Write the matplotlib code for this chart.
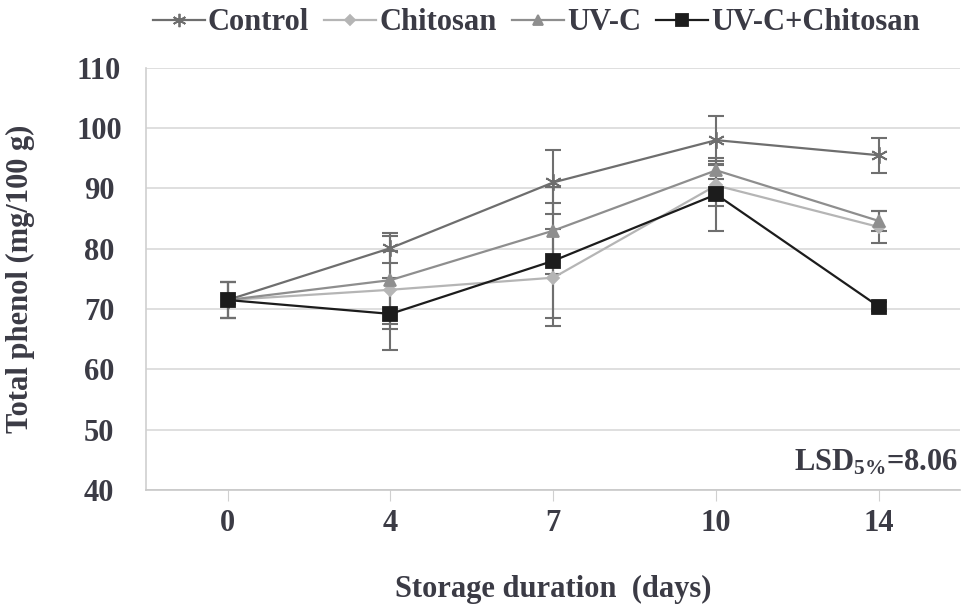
import matplotlib
matplotlib.use("Agg")
import matplotlib.pyplot as plt
import numpy as np

plt.rcParams['font.family'] = ['Liberation Serif', 'DejaVu Serif']
plt.rcParams['font.weight'] = 'bold'
plt.rcParams['axes.labelweight'] = 'bold'
plt.rcParams['mathtext.fontset'] = 'custom'
plt.rcParams['mathtext.rm'] = 'Liberation Serif:bold'
plt.rcParams['mathtext.bf'] = 'Liberation Serif:bold'
plt.rcParams['mathtext.default'] = 'bf'

days = ['0', '4', '7', '10', '14']

control = [71.5, 80.1, 91.0, 98.0, 95.5]
control_err = [3.0, 2.5, 5.3, 4.0, 2.9]
chitosan = [71.5, 73.2, 75.2, 90.5, 83.6]
chitosan_err = [3.0, 6.5, 8.0, 3.4, 2.6]
uvc = [71.5, 74.8, 83.0, 93.0, 84.6]
uvc_err = [3.0, 7.3, 7.2, 1.5, 1.6]
uvc_chit = [71.5, 69.2, 78.0, 89.0, 70.4]
uvc_chit_err = [3.0, 6.0, 9.5, 6.0, 0.8]

text_col = '#3b3b45'
fs = 22

fig = plt.figure(figsize=(9.75, 6.05), dpi=100)
ax = fig.add_axes([0.150, 0.190, 0.835, 0.698])

x = np.arange(len(days))
series = [
    ('Control', control, control_err, '#6e6e6e', (6, 2, 0), 12, 3),
    ('Chitosan', chitosan, chitosan_err, '#b5b5b5', 'D', 6, 4),
    ('UV-C', uvc, uvc_err, '#8e8e8e', '^', 9, 5),
    ('UV-C+Chitosan', uvc_chit, uvc_chit_err, '#1c1c1c', 's', 10, 6),
]

handles = []
for name, vals, err, col, mk, ms, z in series:
    ax.errorbar(x, vals, yerr=err, fmt='none', ecolor='#6f6f6f',
                elinewidth=1.5, capsize=6, capthick=1.5, zorder=2)
    line, = ax.plot(x, vals, color=col, lw=1.6, marker=mk, markersize=ms,
                    markerfacecolor=col, markeredgecolor=col, markeredgewidth=1.3,
                    zorder=z, label=name)
    handles.append(line)

ax.set_xlim(-0.5, len(days) - 0.5)
ax.set_ylim(40, 110)
ax.set_yticks(range(40, 111, 10))
ax.set_xticks(x)
ax.set_xticklabels(days)
ax.yaxis.grid(True, color='#d9d9d9', lw=1.2)
ax.set_axisbelow(True)

for s in ['top', 'right']:
    ax.spines[s].set_visible(False)
ax.spines['left'].set_color('#d0d0d0')
ax.spines['bottom'].set_color('#c8c8c8')
ax.spines['left'].set_linewidth(1.2)
ax.spines['bottom'].set_linewidth(1.2)

ax.tick_params(axis='y', length=0, pad=34, labelsize=fs, labelcolor=text_col)
ax.tick_params(axis='x', length=8, color='#d0d0d0', pad=6, labelsize=fs,
               labelcolor=text_col)
for lab in ax.get_yticklabels():
    lab.set_horizontalalignment('center')

ax.set_xlabel('Storage duration  (days)', fontsize=fs, color=text_col, labelpad=26)
ax.set_ylabel('Total phenol (mg/100 g)', fontsize=fs, color=text_col, labelpad=30)

ax.text(0.998, 0.03, 'LSD$_{5\\%}$=8.06', transform=ax.transAxes, ha='right',
        va='bottom', fontsize=fs, color=text_col)

fig.legend(handles=handles, loc='center', bbox_to_anchor=(0.55, 0.962), ncol=4,
           frameon=False, fontsize=fs, handlelength=1.7, handletextpad=0.1,
           columnspacing=0.5, labelcolor=text_col, markerscale=0.8)

fig.savefig('out.png', dpi=100)
